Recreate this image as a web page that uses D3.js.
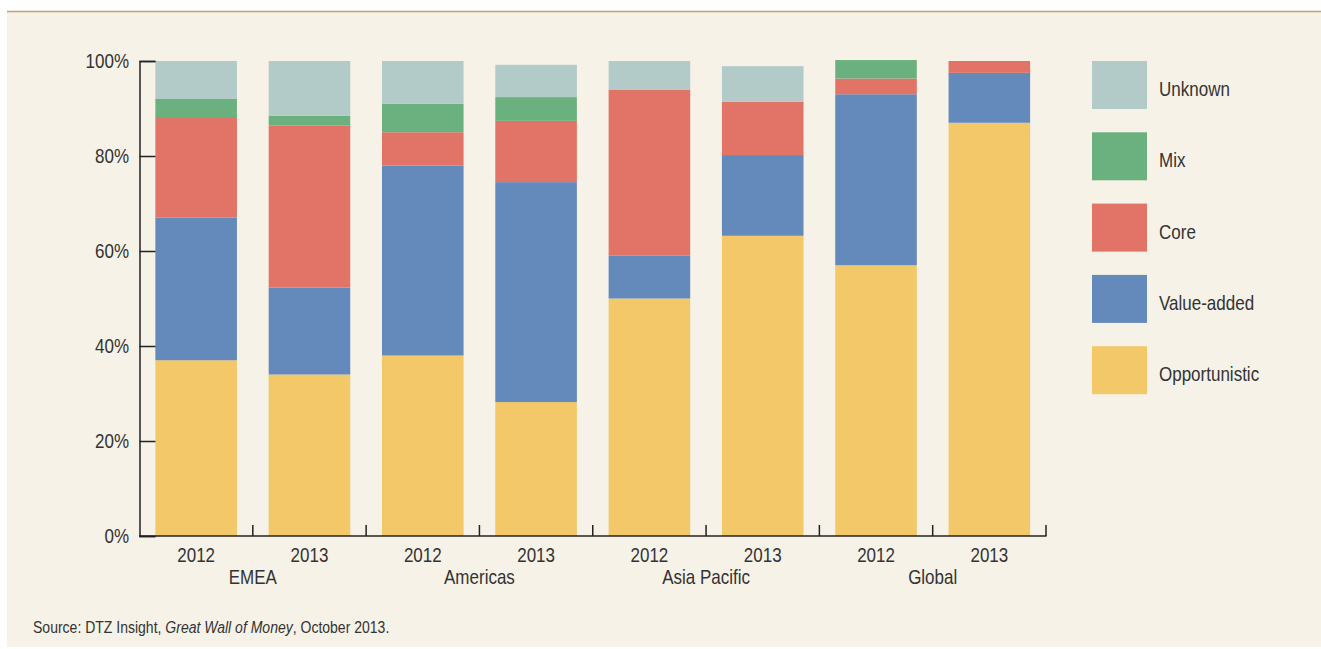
<!DOCTYPE html>
<html><head><meta charset="utf-8">
<script src="https://cdn.jsdelivr.net/npm/d3@7"></script>
<style>
html,body{margin:0;padding:0;background:#fff;}
svg text{font-family:"Liberation Sans","Arial",sans-serif;fill:#333;}
</style></head>
<body><svg id="chart" width="1321" height="649"></svg>
<script>
const regions = ["EMEA","EMEA","Americas","Americas","Asia Pacific","Asia Pacific","Global","Global"];
const years = ["2012","2013","2012","2013","2012","2013","2012","2013"];
const seriesNames = ["Opportunistic","Value-added","Core","Mix","Unknown"];
const opportunistic = [37, 34, 38, 28.2, 50, 63.2, 57, 87];
const valueAdded    = [30, 18.3, 40, 46.3, 9, 17, 36, 10.5];
const core          = [21, 34.1, 7, 12.9, 35, 11.2, 3.3, 2.5];
const mix           = [4, 2.1, 6, 5, 0, 0, 3.9, 0];
const unknown       = [8, 11.5, 9, 6.8, 6, 7.5, 0, 0];
const yTicks = [0, 20, 40, 60, 80, 100];
const colors = {"Opportunistic":"#f2c869","Value-added":"#6489bb","Core":"#e27467","Mix":"#6bb17f","Unknown":"#b3cbc8"};

const SX = 0.81;
function label(parent, x, y, txt, size, anchor, dy){
  const t = parent.append("g").attr("transform",`translate(${x},${y}) scale(${SX},1)`)
    .append("text").attr("font-size",size).attr("text-anchor",anchor||"start");
  if(dy) t.attr("dy",dy);
  t.text(txt);
  return t;
}

const svg = d3.select("#chart");
svg.append("rect").attr("x",7).attr("y",11).attr("width",1314).attr("height",636).attr("fill","#f6f2e8");
svg.append("line").attr("x1",7).attr("x2",1321).attr("y1",11.5).attr("y2",11.5).attr("stroke","#c3a565").attr("stroke-width",1.5);

const ids = years.map((y,i)=>i);
const table = ids.map(i=>({i, "Opportunistic":opportunistic[i],"Value-added":valueAdded[i],"Core":core[i],"Mix":mix[i],"Unknown":unknown[i]}));
const stacked = d3.stack().keys(seriesNames)(table);

const x = d3.scaleBand().domain(ids).range([139.5,1046]).paddingInner(0.28).paddingOuter(0.14);
const y = d3.scaleLinear().domain([0,100]).range([536,61]);

const g = svg.append("g");
stacked.forEach(s=>{
  g.selectAll(null).data(s).join("rect")
    .attr("x",d=>x(d.data.i)).attr("width",x.bandwidth())
    .attr("y",d=>y(d[1])).attr("height",d=>y(d[0])-y(d[1]))
    .attr("fill",colors[s.key]);
});

// y axis
const yAxis = svg.append("g").attr("transform","translate(139.5,0)")
  .call(d3.axisRight(y).tickValues(yTicks).tickSize(16).tickFormat(""));
yAxis.select(".domain").attr("stroke","#222").attr("stroke-width",1.5);
yAxis.selectAll(".tick line").attr("stroke","#222").attr("stroke-width",1.5);
const yl = svg.append("g");
yTicks.forEach(d=>label(yl, 129, y(d), d+"%", 21, "end", "0.34em"));

// x axis
const step = x.step();
const bounds = ids.map(i=>x(i)-x.paddingInner()*step/2+step);
svg.append("line").attr("x1",139).attr("x2",bounds[bounds.length-1]+0.5).attr("y1",536).attr("y2",536)
  .attr("stroke","#222").attr("stroke-width",1.5);
svg.append("g").selectAll("line").data(bounds).join("line")
  .attr("x1",d=>d).attr("x2",d=>d).attr("y1",536).attr("y2",525)
  .attr("stroke","#222").attr("stroke-width",1.5);
const xl = svg.append("g");
ids.forEach(i=>label(xl, x(i)+x.bandwidth()/2, 562, years[i], 21, "middle"));
const groups = d3.groups(ids, i=>regions[i]);
groups.forEach(d=>label(xl, (x(d[1][0])+x(d[1][d[1].length-1])+x.bandwidth())/2, 584, d[0], 21, "middle"));

// legend
const legendOrder = seriesNames.slice().reverse();
const lg = svg.append("g");
legendOrder.forEach((k,j)=>{
  const yy = 61 + j*71.3;
  lg.append("rect").attr("x",1092).attr("y",yy).attr("width",55).attr("height",48).attr("fill",colors[k]);
  label(lg, 1159, yy+35, k, 21, "start");
});

// source
const src = svg.append("g").attr("transform",`translate(33,633) scale(${SX},1)`)
  .append("text").attr("font-size",17.3);
src.append("tspan").text("Source: DTZ Insight, ");
src.append("tspan").attr("font-style","italic").text("Great Wall of Money");
src.append("tspan").text(", October 2013.");
</script></body></html>
